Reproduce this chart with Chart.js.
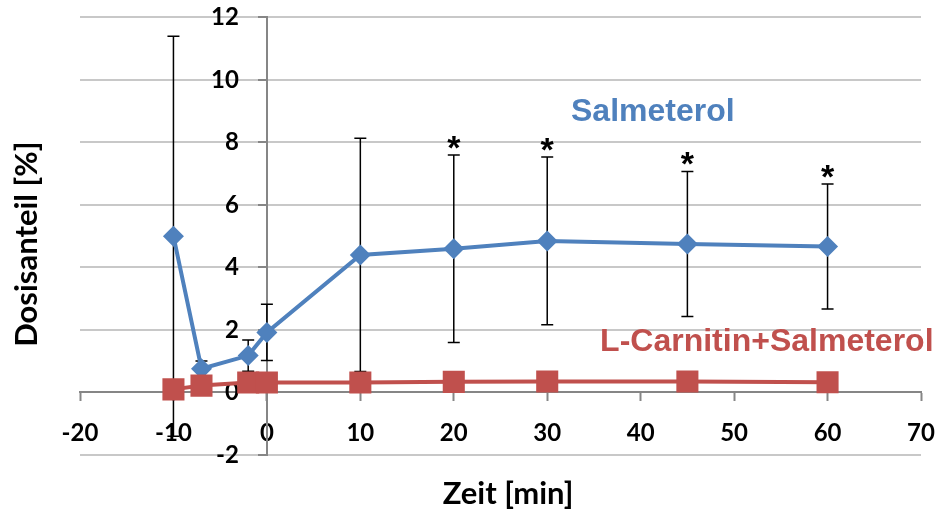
<!DOCTYPE html>
<html>
<head>
<meta charset="utf-8">
<script src="https://cdn.jsdelivr.net/npm/chart.js@4"></script>
<style>
  html, body { margin: 0; padding: 0; background: #fff; }
  #wrap { width: 939px; height: 510px; }
</style>
</head>
<body>
<div id="wrap"><canvas id="chart"></canvas></div>
<script>
// Zeitpunkte [min]
const zeit = [-10, -7, -2, 0, 10, 20, 30, 45, 60];
// Salmeterol: Mittelwert und SD
const salmeterol = [5.0, 0.76, 1.18, 1.92, 4.4, 4.6, 4.85, 4.75, 4.67];
const salmeterolSd = [6.4, 0.25, 0.5, 0.9, 3.73, 3.0, 2.68, 2.32, 2.0];
const signifikant = [false, false, false, false, false, true, true, true, true];
// L-Carnitin+Salmeterol
const carnitin = [0.1, 0.22, 0.32, 0.32, 0.32, 0.34, 0.35, 0.35, 0.33];
const carnitinSd = [0.05, 0.05, 0.05, 0.05, 0.05, 0.05, 0.05, 0.05, 0.05];

const blau = '#4F81BD';
const rot = '#C0504D';
const achse = '#868686';
const gitter = '#C8C8C8';
const tickFont = { family: 'Lato', weight: 'bold', size: 24 };

const punkte = (werte) => zeit.map((t, i) => ({ x: t, y: werte[i] }));

const fehlerbalken = {
    id: 'fehlerbalken',
    beforeDatasetsDraw(chart) {
        const { ctx, scales: { x, y } } = chart;
        ctx.save();
        ctx.strokeStyle = '#000';
        ctx.lineWidth = 1.5;
        [[salmeterol, salmeterolSd], [carnitin, carnitinSd]].forEach(([werte, sd]) => {
            zeit.forEach((t, i) => {
                const px = x.getPixelForValue(t);
                const oben = y.getPixelForValue(werte[i] + sd[i]);
                const unten = y.getPixelForValue(werte[i] - sd[i]);
                ctx.beginPath();
                ctx.moveTo(px, oben); ctx.lineTo(px, unten);
                ctx.moveTo(px - 6, oben); ctx.lineTo(px + 6, oben);
                ctx.moveTo(px - 6, unten); ctx.lineTo(px + 6, unten);
                ctx.stroke();
            });
        });
        ctx.restore();
    }
};

const beschriftung = {
    id: 'beschriftung',
    afterDraw(chart) {
        const { ctx, chartArea, scales: { x, y } } = chart;
        ctx.save();
        // Sterne über den Fehlerbalken
        ctx.fillStyle = '#000';
        ctx.font = 'bold 34px "Liberation Sans"';
        ctx.textAlign = 'center';
        ctx.textBaseline = 'alphabetic';
        zeit.forEach((t, i) => {
            if (!signifikant[i]) return;
            ctx.fillText('*', x.getPixelForValue(t), y.getPixelForValue(salmeterol[i] + salmeterolSd[i]) + 4);
        });
        // Serienbeschriftung
        ctx.font = 'bold 32px "Liberation Sans"';
        ctx.textBaseline = 'middle';
        ctx.fillStyle = blau;
        ctx.fillText('Salmeterol', x.getPixelForValue(41.3), y.getPixelForValue(8.96));
        ctx.fillStyle = rot;
        ctx.fillText('L-Carnitin+Salmeterol', x.getPixelForValue(53.5), y.getPixelForValue(1.6));
        // Achsentitel
        ctx.fillStyle = '#000';
        ctx.font = 'bold 31px Lato';
        ctx.fillText('Zeit [min]', 508, 494);
        ctx.translate(27, (chartArea.top + chartArea.bottom) / 2 + 8);
        ctx.rotate(-Math.PI / 2);
        ctx.fillText('Dosisanteil [%]', 0, 0);
        ctx.restore();
    }
};

new Chart(document.getElementById('chart'), {
    type: 'line',
    data: {
        datasets: [
            {
                label: 'Salmeterol',
                data: punkte(salmeterol),
                borderColor: blau,
                backgroundColor: blau,
                borderWidth: 4,
                pointStyle: 'rectRot',
                pointRadius: 10.5,
                pointBorderWidth: 0,
                pointBackgroundColor: blau,
                order: 2
            },
            {
                label: 'L-Carnitin+Salmeterol',
                data: punkte(carnitin),
                borderColor: rot,
                backgroundColor: rot,
                borderWidth: 4,
                pointStyle: 'rect',
                pointRadius: 15.6,
                pointBorderWidth: 0,
                pointBackgroundColor: rot,
                order: 1
            }
        ]
    },
    options: {
        responsive: true,
        maintainAspectRatio: false,
        animation: false,
        layout: { padding: { left: 80, right: 18, top: 11, bottom: 55 } },
        plugins: {
            legend: { display: false },
            tooltip: { enabled: false }
        },
        scales: {
            x: {
                type: 'linear',
                position: { y: 0 },
                min: -20,
                max: 70,
                ticks: { stepSize: 10, display: false },
                grid: { drawOnChartArea: false, drawTicks: true, tickLength: 8, tickColor: achse, tickWidth: 2 },
                border: { color: achse, width: 2 }
            },
            // Beschriftung der x-Achse, etwas unterhalb der Achse
            xBeschriftung: {
                type: 'linear',
                axis: 'x',
                position: { y: -0.72 },
                min: -20,
                max: 70,
                ticks: { stepSize: 10, color: '#000', font: tickFont, padding: 4 },
                grid: { display: false, drawTicks: false },
                border: { display: false }
            },
            y: {
                type: 'linear',
                position: { x: 0 },
                min: -2,
                max: 12,
                ticks: { stepSize: 2, display: false },
                grid: { color: gitter, lineWidth: 2, drawTicks: true, tickLength: 8, tickColor: achse, tickWidth: 2 },
                border: { color: achse, width: 2 }
            },
            // Beschriftung der y-Achse, etwas links der Achse
            yBeschriftung: {
                type: 'linear',
                axis: 'y',
                position: { x: -3 },
                min: -2,
                max: 12,
                ticks: { stepSize: 2, color: '#000', font: tickFont },
                grid: { display: false, drawTicks: false },
                border: { display: false }
            }
        }
    },
    plugins: [fehlerbalken, beschriftung]
});
</script>
</body>
</html>
